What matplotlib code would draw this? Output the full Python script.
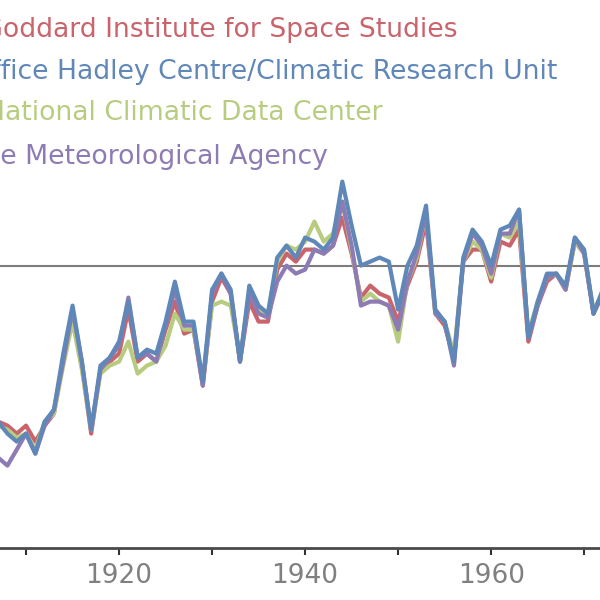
import matplotlib.pyplot as plt

years = list(range(1907, 1973))

giss = [-0.39, -0.40, -0.42, -0.40, -0.44, -0.40, -0.37, -0.23, -0.12, -0.25,
        -0.42, -0.26, -0.24, -0.22, -0.11, -0.24, -0.22, -0.24, -0.16, -0.09,
        -0.17, -0.16, -0.30, -0.09, -0.03, -0.07, -0.24, -0.09, -0.14, -0.14,
        -0.01, 0.03, 0.01, 0.04, 0.04, 0.03, 0.05, 0.12, 0.03, -0.08,
        -0.05, -0.07, -0.08, -0.14, -0.05, 0.01, 0.11, -0.12, -0.15, -0.23,
        0.01, 0.04, 0.04, -0.04, 0.06, 0.05, 0.09, -0.19, -0.10, -0.04,
        -0.02, -0.06, 0.06, 0.03, -0.12, -0.07]

hadcru = [-0.39, -0.42, -0.44, -0.42, -0.47, -0.39, -0.36, -0.22, -0.10, -0.24,
          -0.41, -0.25, -0.23, -0.19, -0.09, -0.23, -0.21, -0.22, -0.14, -0.04,
          -0.14, -0.14, -0.29, -0.06, -0.02, -0.06, -0.24, -0.05, -0.10, -0.12,
          0.02, 0.05, 0.02, 0.07, 0.06, 0.04, 0.07, 0.21, 0.10, 0.00,
          0.01, 0.02, 0.01, -0.11, 0.00, 0.05, 0.15, -0.11, -0.14, -0.24,
          0.02, 0.09, 0.06, 0.00, 0.09, 0.10, 0.14, -0.18, -0.09, -0.02,
          -0.02, -0.05, 0.07, 0.04, -0.12, -0.06]

ncdc = [-0.40, -0.41, -0.43, -0.42, -0.46, -0.39, -0.37, -0.25, -0.14, -0.26,
        -0.41, -0.27, -0.25, -0.24, -0.19, -0.27, -0.25, -0.24, -0.20, -0.12,
        -0.16, -0.16, -0.29, -0.10, -0.09, -0.10, -0.23, -0.07, -0.11, -0.12,
        0.01, 0.05, 0.04, 0.06, 0.11, 0.06, 0.08, 0.16, 0.04, -0.09,
        -0.07, -0.09, -0.10, -0.19, -0.04, 0.02, 0.13, -0.12, -0.14, -0.22,
        0.01, 0.06, 0.04, -0.03, 0.08, 0.07, 0.11, -0.17, -0.09, -0.03,
        -0.02, -0.06, 0.06, 0.03, -0.11, -0.07]

jma = [-0.48, -0.50, -0.46, -0.42, -0.47, -0.40, -0.36, -0.24, -0.11, -0.24,
       -0.41, -0.26, -0.23, -0.20, -0.08, -0.23, -0.22, -0.24, -0.15, -0.06,
       -0.15, -0.15, -0.30, -0.07, -0.02, -0.07, -0.24, -0.07, -0.12, -0.13,
       -0.04, 0.00, -0.02, -0.01, 0.04, 0.03, 0.05, 0.16, 0.05, -0.10,
       -0.09, -0.09, -0.10, -0.16, -0.04, 0.03, 0.13, -0.12, -0.14, -0.25,
       0.01, 0.08, 0.05, -0.02, 0.08, 0.08, 0.14, -0.18, -0.10, -0.03,
       -0.02, -0.06, 0.07, 0.03, -0.12, -0.07]

labels = ["NASA Goddard Institute for Space Studies",
          "Met Office Hadley Centre/Climatic Research Unit",
          "NOAA National Climatic Data Center",
          "Japanese Meteorological Agency"]
colors = ["#c9646c", "#5f87b8", "#b8cc80", "#8d7bb3"]

fig = plt.figure(figsize=(6, 6), dpi=100)
ax = fig.add_axes([0, 52 / 600, 1, 548 / 600])

ax.axhline(0, color="#7c7c7c", lw=1.5, zorder=1)
ax.plot(years, giss, color=colors[0], lw=3, zorder=2)
ax.plot(years, ncdc, color=colors[2], lw=3, zorder=3)
ax.plot(years, jma, color=colors[3], lw=3, zorder=4)
ax.plot(years, hadcru, color=colors[1], lw=3, zorder=5)

ax.set_xlim(1907.2, 1971.7)
ax.set_ylim(-0.706, 0.664)

for s in ["top", "right", "left"]:
    ax.spines[s].set_visible(False)
ax.spines["bottom"].set_color("#4a4a4a")
ax.spines["bottom"].set_linewidth(2)
ax.set_yticks([])
ax.set_xticks([1910, 1920, 1930, 1940, 1950, 1960, 1970])
ax.set_xticklabels(["", "1920", "", "1940", "", "1960", ""])
ax.tick_params(axis="x", length=5, width=1.5, color="#333333",
               labelsize=19, labelcolor="#808080", pad=6)

# legend text, cut off at the left edge like the source image
ends = [458, 557, 383, 328]
ys = [30, 72, 113, 157]
for lab, c, xe, yy in zip(labels, colors, ends, ys):
    fig.text(xe / 600, 1 - yy / 600, lab, color=c, fontsize=19.2,
             ha="right", va="center")

fig.savefig("out.png", dpi=100)
